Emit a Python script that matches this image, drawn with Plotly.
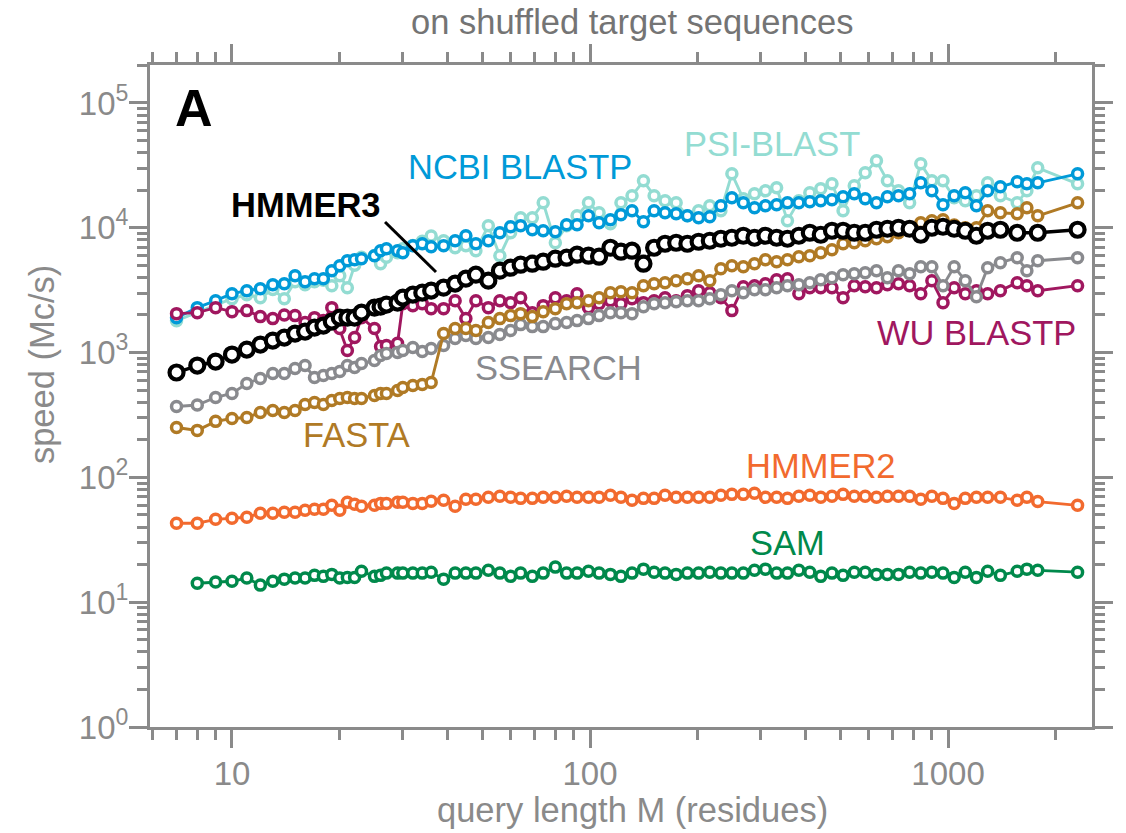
import plotly.graph_objects as go

query_len = [7, 8, 9, 10, 11, 12, 13, 14, 15, 16, 17, 18, 19, 20, 21, 22, 23, 25, 26, 27,
             29, 30, 32, 34, 36, 39, 42, 45, 48, 52, 56, 60, 64, 69, 74, 80, 86, 92, 99, 106,
             114, 122, 131, 141, 151, 162, 174, 187, 201, 216, 232, 249, 268, 288, 309, 332, 356, 383, 411, 441,
             474, 509, 547, 587, 631, 677, 727, 781, 839, 901, 968, 1040, 1117, 1200, 1290, 1400, 1560, 1660, 1780, 2300]

hmmer3 = [692, 787, 847, 964, 1057, 1159, 1248, 1318, 1419, 1472,
          1585, 1644, 1770, 1905, 1905, 1905, 2089, 2291, 2333, 2421,
          2512, 2754, 2911, 3020, 3133, 3311, 3565, 3908, 4207, 3767,
          4529, 4786, 5058, 5152, 5346, 5649, 5754, 6081, 5970, 5861,
          6918, 6427, 6546, 5152, 6918, 7447, 7586, 7447, 7727, 7870,
          8166, 8318, 8630, 8318, 8630, 8318, 8166, 8630, 9120, 8790,
          9462, 9462, 9120, 9120, 9638, 9817, 10000, 9817, 8790, 10000,
          10186, 9817, 9462, 8630, 9462, 9638, 9120, None, 9120, 9638]

ncbi_blastp = [1900, 2291, 2606, 2965, 3133, 3251, 3499, 3565, 4130, 3698,
               3908, 3908, 4529, 4966, 5445, 5546, 5649, 5970, 6546, 6792,
               6546, 6310, 7178, 7447, 7047, 7178, 7870, 8630, 7447, 7870,
               9120, 10186, 10375, 9638, 9462, 9290, 10568, 10568, 12474, 10965,
               11588, 12706, 13677, 11169, 13677, 13183, 12941, 12474, 12023, 12246,
               14997, 17378, 15849, 14454, 14997, 15276, 15849, 15849, 16144, 16444,
               16749, 17701, 18707, 17061, 15849, 17701, 18030, 18707, 22909, 19770,
               15276, 18030, 19055, 14997, 19770, 21281, 23335, 22491, 22909, 27040]

psi_blast = [1800, 2100, 2400, 2700, 2900, 2754, 3200, 2704, 3700, 3500,
             3700, 3800, 3436, 4130, 3311, 5000, 5800, 6000, 5152, 5800,
             6300, 6800, 7200, 7800, 8600, 7870, 6918, 7178, 6546, 10375,
             5970, 9120, 12023, 12000, 15849, 7586, 10375, 12474, 15849, 13183,
             10765, 15849, 18030, 23768, 18030, 16444, 15849, 12474, 13677, 14997,
             13677, 27040, 17061, 18707, 19770, 20893, 11400, 16444, 19055, 20512,
             22491, 13677, 21677, 27542, 34356, 23768, 19770, 15849, 32509, 23768,
             23768, 17378, 16444, 18030, 22909, 18030, 15849, 19770, 30200, 22491]

wu_blastp = [2051, 2089, 2291, 2128, 2168, 1941, 1871, 2000, 1977, 1738,
             1905, 1803, 2291, 1556, 1038, 1318, 1905, 1556, 1117, 1138,
             1189, 2466, 2377, 2466, 2249, 2249, 2606, 1871, 2606, 2291,
             2606, 2512, 2754, 2089, 2377, 2754, 2606, 2965, 2291, 2466,
             2606, 2466, 2704, 2512, 2606, 2754, 2606, 2858, 3133, 3020,
             2754, 2168, 3373, 3436, 3565, 3837, 3908, 2965, 3311, 3311,
             3311, 2754, 3436, 3373, 3311, 3499, 3565, 3436, 2965, 3767,
             2512, 3311, 2965, 3133, 2965, 3133, 3631, 3436, 3133, 3436]

ssearch = [370, 380, 437, 470, 565, 619, 679, 679, 745, 787,
           631, 655, 679, 705, 787, 760, 817, 863, 946, 982,
           1000, 1038, 1096, 1019, 1076, 1138, 1294, 1368, 1294, 1318,
           1393, 1500, 1675, 1614, 1614, 1706, 1738, 1803, 1871, 1977,
           2089, 2089, 2051, 2333, 2466, 2512, 2559, 2606, 2606, 2704,
           2911, 3133, 3020, 3192, 3192, 3311, 3436, 3499, 3631, 3837,
           3981, 4207, 4285, 4365, 4529, 3981, 4529, 4285, 4875, 4875,
           3436, 4875, 3767, 2805, 4786, 5248, 5754, 4529, 5445, 5754]

fasta = [251, 238, 281, 296, 302, 331, 344, 331, 344, 384,
         398, 384, 413, 429, 437, 429, 429, 453, 470, 470,
         497, 525, 545, 555, 575, 1419, 1556, 1556, 1500, 1738,
         1871, 1977, 2051, 1941, 2128, 2249, 2466, 2512, 2606, 2754,
         3020, 3076, 3020, 3436, 3565, 3631, 3767, 3908, 4130, 3767,
         4699, 4966, 4875, 5152, 5546, 5346, 5546, 5861, 5970, 6310,
         6668, 7447, 7586, 7870, 8166, 8472, 9120, 9817, 10965, 11376,
         11588, 10500, 10000, 10000, 13677, 13183, 12941, 14454, 12474, 15849]

hmmer2 = [42.9, 42.9, 46.1, 47.0, 47.9, 51.5, 51.5, 52.5, 52.5, 54.5,
          55.5, 55.5, 59.7, 54.5, 63.1, 60.8, 58.6, 59.7, 61.9, 61.9,
          63.1, 63.1, 61.9, 61.9, 64.3, 65.5, 58.6, 66.7, 66.7, 69.2,
          70.5, 69.2, 67.9, 67.9, 69.2, 69.2, 70.5, 69.2, 69.2, 69.2,
          71.8, 69.2, 65.5, 67.9, 67.9, 71.8, 69.2, 69.2, 69.2, 69.2,
          71.8, 73.1, 73.1, 74.5, 69.2, 69.2, 67.9, 70.5, 71.8, 69.2,
          70.5, 73.1, 70.5, 70.5, 69.2, 70.5, 70.5, 70.5, 66.7, 70.5,
          67.9, 61.9, 67.9, 69.2, 69.2, 69.2, 65.5, 69.2, 64.0, 59.7]

sam = [None, 14.2, 14.5, 14.7, 15.6, 13.7, 14.7, 15.3, 15.6, 15.6,
       16.4, 16.1, 16.7, 15.6, 15.8, 15.8, 17.7, 16.1, 16.4, 17.1,
       17.1, 17.1, 17.1, 17.1, 17.4, 15.3, 17.1, 17.1, 17.1, 18.0,
       17.1, 16.1, 17.1, 16.1, 17.1, 19.1, 17.1, 17.1, 17.7, 17.1,
       16.7, 16.1, 17.1, 18.4, 17.4, 17.1, 16.7, 17.1, 17.1, 17.4,
       17.1, 17.1, 17.1, 18.0, 18.4, 17.1, 17.1, 18.0, 17.4, 16.1,
       17.1, 16.4, 17.4, 17.4, 16.7, 16.7, 16.7, 17.4, 17.1, 17.4,
       17.1, 15.8, 17.4, 15.8, 17.7, 16.4, 17.7, 18.4, 18.0, 17.4]

y_tick_vals = [1, 10, 100, 1000, 10000, 100000]
y_tick_text = ["10<sup>0</sup>", "10<sup>1</sup>", "10<sup>2</sup>", "10<sup>3</sup>",
               "10<sup>4</sup>", "10<sup>5</sup>"]
x_tick_vals = [10, 100, 1000]
x_tick_text = ["10", "100", "1000"]
minor_x = [6, 7, 8, 9, 20, 30, 40, 50, 60, 70, 80, 90,
           200, 300, 400, 500, 600, 700, 800, 900, 2000]
minor_y = [m * 10 ** k for k in range(0, 5) for m in range(2, 10)] + [200000]

FONT = "Liberation Sans, Arial, sans-serif"
GRAY = "#8a8a8a"
C_PSI, C_NCBI, C_WU = "#93dcd2", "#009ad8", "#a0175f"
C_SS, C_FA, C_H2, C_SAM, C_H3 = "#898a8e", "#b07a25", "#f26a2e", "#00894b", "#000000"

series = [
    ("PSI-BLAST", psi_blast, C_PSI, 10, 3.5, 2.9),
    ("NCBI BLASTP", ncbi_blastp, C_NCBI, 10, 3.5, 2.9),
    ("WU BLASTP", wu_blastp, C_WU, 10, 3.5, 2.9),
    ("SSEARCH", ssearch, C_SS, 10, 3.5, 2.9),
    ("FASTA", fasta, C_FA, 10, 3.5, 2.9),
    ("HMMER2", hmmer2, C_H2, 10, 3.5, 2.9),
    ("SAM", sam, C_SAM, 10, 3.5, 2.9),
    ("HMMER3", hmmer3, C_H3, 14, 4.2, 3.4),
]

fig = go.Figure()
for name, vals, col, msize, mlw, lw in series:
    fig.add_trace(go.Scatter(
        x=query_len, y=vals, mode="lines+markers", name=name,
        connectgaps=True,
        line=dict(color=col, width=lw),
        marker=dict(symbol="circle", size=msize, color="white",
                    line=dict(color=col, width=mlw)),
        showlegend=False,
    ))

axis_common = dict(
    showline=True, linecolor=GRAY, linewidth=3, mirror="ticks",
    ticks="outside", ticklen=18, tickwidth=3, tickcolor=GRAY,
    showgrid=False, zeroline=False,
    tickfont=dict(family=FONT, size=33, color=GRAY),
)

fig.update_xaxes(type="log", range=[0.771, 3.402], tickmode="array",
                 tickvals=x_tick_vals, ticktext=x_tick_text,
                 ticklabelstandoff=-3,
                 minor=dict(tickmode="array", tickvals=minor_x, ticks="outside",
                            ticklen=10, tickwidth=3, tickcolor=GRAY, showgrid=False),
                 **axis_common)
fig.update_yaxes(type="log", range=[0, 5.304], tickmode="array",
                 tickvals=y_tick_vals, ticktext=y_tick_text,
                 ticklabelstandoff=-6,
                 minor=dict(tickmode="array", tickvals=minor_y, ticks="outside",
                            ticklen=10, tickwidth=3, tickcolor=GRAY, showgrid=False),
                 **axis_common)


def lab(text, xp, yp, color, size=34.5, bold=False, angle=0):
    fig.add_annotation(text=("<b>%s</b>" % text) if bold else text,
                       x=xp, y=yp, xref="paper", yref="paper",
                       xanchor="center", yanchor="middle", showarrow=False,
                       textangle=angle,
                       font=dict(family=FONT, size=size, color=color))


lab("on shuffled target sequences", 0.5117, 1.065, "#747474")
lab("speed (Mc/s)", -0.1146, 0.5468, GRAY, angle=-90)
lab("query length M (residues)", 0.5127, -0.1254, GRAY)
lab("A", 0.0467, 0.9358, "#000000", size=52, bold=True)
lab("NCBI BLASTP", 0.3928, 0.8452, C_NCBI)
lab("PSI-BLAST", 0.6608, 0.8807, C_PSI)
lab("HMMER3", 0.1656, 0.7878, C_H3, bold=True)
lab("WU BLASTP", 0.8769, 0.5959, C_WU)
lab("SSEARCH", 0.4337, 0.5423, C_SS)
lab("FASTA", 0.2197, 0.4418, C_FA)
lab("HMMER2", 0.7123, 0.3943, C_H2)
lab("SAM", 0.6768, 0.2787, C_SAM)

fig.add_shape(type="line", xref="paper", yref="paper",
              x0=0.2495, y0=0.7628, x1=0.3036, y1=0.6873,
              line=dict(color="#000000", width=3))

fig.update_layout(
    width=1118, height=825,
    margin=dict(l=142, r=34, t=57, b=106),
    paper_bgcolor="white", plot_bgcolor="white",
    font=dict(family=FONT),
)

fig.write_html("out.html")
